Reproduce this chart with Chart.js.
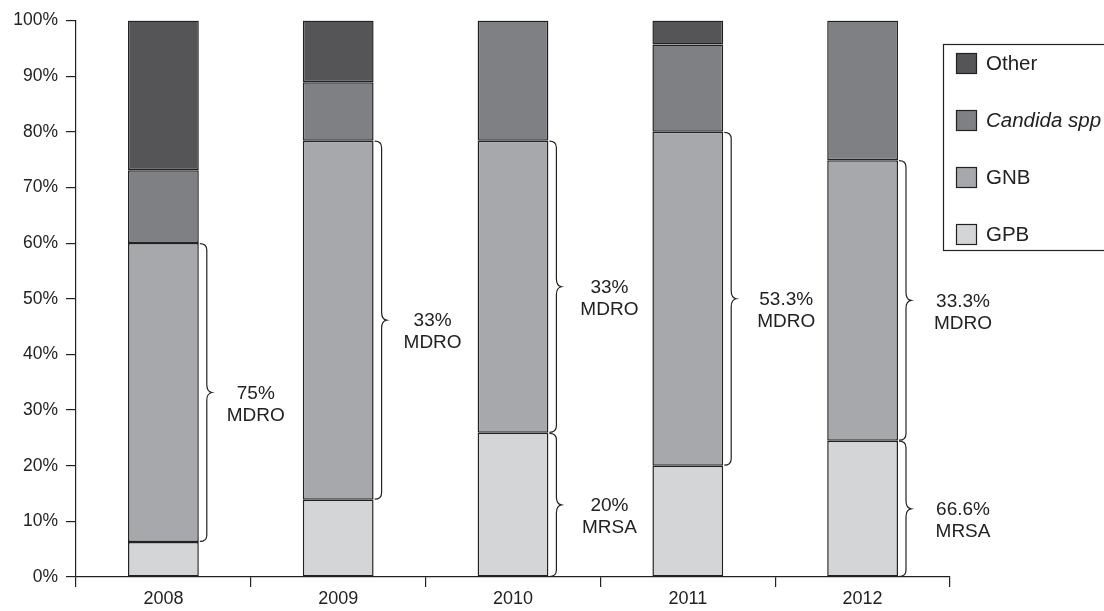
<!DOCTYPE html>
<html>
<head>
<meta charset="utf-8">
<script src="https://cdn.jsdelivr.net/npm/chart.js@4/dist/chart.umd.min.js"></script>
<style>
  html, body { margin: 0; padding: 0; background: #fff; }
  #wrap { width: 1104px; height: 611px; }
</style>
</head>
<body>
<div id="wrap"><canvas id="chart" width="1104" height="611"></canvas></div>
<script>
// values (percent of isolates per year)
const years = ["2008", "2009", "2010", "2011", "2012"];
const gpb = [6.3, 13.9, 25.9, 20.0, 24.5];
const gnb = [53.7, 64.5, 52.5, 60.0, 50.4];
const candida = [13.1, 10.5, 21.6, 15.7, 25.1];
const other = [26.9, 11.1, 0, 4.3, 0];

// braces next to the bars: which segment they span and what they say
const braces = [
  { year: "2008", series: "GNB", text: ["75%", "MDRO"] },
  { year: "2009", series: "GNB", text: ["33%", "MDRO"] },
  { year: "2010", series: "GNB", text: ["33%", "MDRO"] },
  { year: "2010", series: "GPB", text: ["20%", "MRSA"] },
  { year: "2011", series: "GNB", text: ["53.3%", "MDRO"] },
  { year: "2012", series: "GNB", text: ["33.3%", "MDRO"] },
  { year: "2012", series: "GPB", text: ["66.6%", "MRSA"] },
];

const FONT = "'Liberation Sans', Arial, Helvetica, sans-serif";

function ds(label, data, color, italic) {
  return {
    label: label,
    data: data,
    backgroundColor: color,
    borderColor: "#222",
    borderWidth: 1.5,
    borderSkipped: false,
    categoryPercentage: 1.0,
    barPercentage: 0.405,
    italic: italic || false,
  };
}

const bracePlugin = {
  id: "braces",
  afterDatasetsDraw(chart) {
    const ctx = chart.ctx;
    const y = chart.scales.y;
    ctx.save();
    braces.forEach((b) => {
      const idx = years.indexOf(b.year);
      const dsi = chart.data.datasets.findIndex((d) => d.label === b.series);
      let base = 0;
      for (let i = 0; i < dsi; i++) base += chart.data.datasets[i].data[idx];
      const top = base + chart.data.datasets[dsi].data[idx];
      const bar = chart.getDatasetMeta(dsi).data[idx];
      const x0 = bar.x + bar.width / 2 + 1;
      const y0 = y.getPixelForValue(top);
      const y1 = y.getPixelForValue(base);
      const mid = (y0 + y1) / 2;
      const xv = x0 + 7;
      const xt = x0 + 12;
      ctx.strokeStyle = "#222";
      ctx.lineWidth = 1.2;
      ctx.beginPath();
      ctx.moveTo(x0, y0 + 0.5);
      ctx.quadraticCurveTo(xv, y0 + 0.5, xv, y0 + 7);
      ctx.lineTo(xv, mid - 8);
      ctx.quadraticCurveTo(xv, mid - 1, xt, mid);
      ctx.quadraticCurveTo(xv, mid + 1, xv, mid + 8);
      ctx.lineTo(xv, y1 - 7);
      ctx.quadraticCurveTo(xv, y1 - 0.5, x0, y1 - 0.5);
      ctx.stroke();

      // text sits in the gap right of the bar
      const tx = x0 + 56 + idx * 2;
      ctx.fillStyle = "#222";
      ctx.font = "19px " + FONT;
      ctx.textAlign = "center";
      ctx.textBaseline = "middle";
      ctx.fillText(b.text[0], tx, mid + 1);
      ctx.fillText(b.text[1], tx, mid + 23);
    });
    ctx.restore();
  },
};

const legendPlugin = {
  id: "boxLegend",
  afterDraw(chart) {
    const ctx = chart.ctx;
    const left = 943, top = 44, bottom = 250;
    ctx.save();
    ctx.strokeStyle = "#222";
    ctx.lineWidth = 1.2;
    ctx.strokeRect(left + 0.5, top + 0.5, 1104 - left + 10, bottom - top);
    const items = chart.data.datasets.slice().reverse();
    items.forEach((d, i) => {
      const cy = 63 + i * 57;
      ctx.fillStyle = d.backgroundColor;
      ctx.fillRect(956, cy - 10, 20, 20);
      ctx.strokeStyle = "#222";
      ctx.strokeRect(956.5, cy - 9.5, 20, 20);
      ctx.fillStyle = "#222";
      ctx.font = (d.italic ? "italic " : "") + "20.5px " + FONT;
      ctx.textAlign = "left";
      ctx.textBaseline = "middle";
      ctx.fillText(d.label, 986, cy + 1);
    });
    ctx.restore();
  },
};

const config = {
  type: "bar",
  data: {
    labels: years,
    datasets: [
      ds("GPB", gpb, "#d4d5d7"),
      ds("GNB", gnb, "#a7a8ab"),
      ds("Candida spp", candida, "#7f8083", true),
      ds("Other", other, "#555557"),
    ],
  },
  options: {
    responsive: false,
    animation: false,
    events: [],
    layout: { padding: { top: 20.5, right: 154, left: 0, bottom: 0 } },
    plugins: {
      legend: { display: false },
      tooltip: { enabled: false },
    },
    scales: {
      x: {
        stacked: true,
        grid: {
          offset: true,
          drawOnChartArea: false,
          drawTicks: true,
          tickLength: 10,
          color: "#222",
          lineWidth: 1.2,
        },
        border: { display: true, color: "#222", width: 1.2 },
        ticks: {
          color: "#222",
          font: { family: FONT, size: 18 },
          padding: 1,
        },
        afterFit(scale) {
          scale.height = 34;
        },
      },
      y: {
        stacked: true,
        min: 0,
        max: 100,
        grid: {
          drawOnChartArea: false,
          drawTicks: true,
          tickLength: 10,
          color: "#222",
          lineWidth: 1.2,
        },
        border: { display: true, color: "#222", width: 1.2 },
        ticks: {
          stepSize: 10,
          color: "#222",
          padding: 8,
          font: { family: FONT, size: 17.5 },
          callback: (v) => v + "%",
        },
        afterFit(scale) {
          scale.width = 76;
        },
      },
    },
  },
  plugins: [bracePlugin, legendPlugin],
};

new Chart(document.getElementById("chart"), config);
</script>
</body>
</html>
